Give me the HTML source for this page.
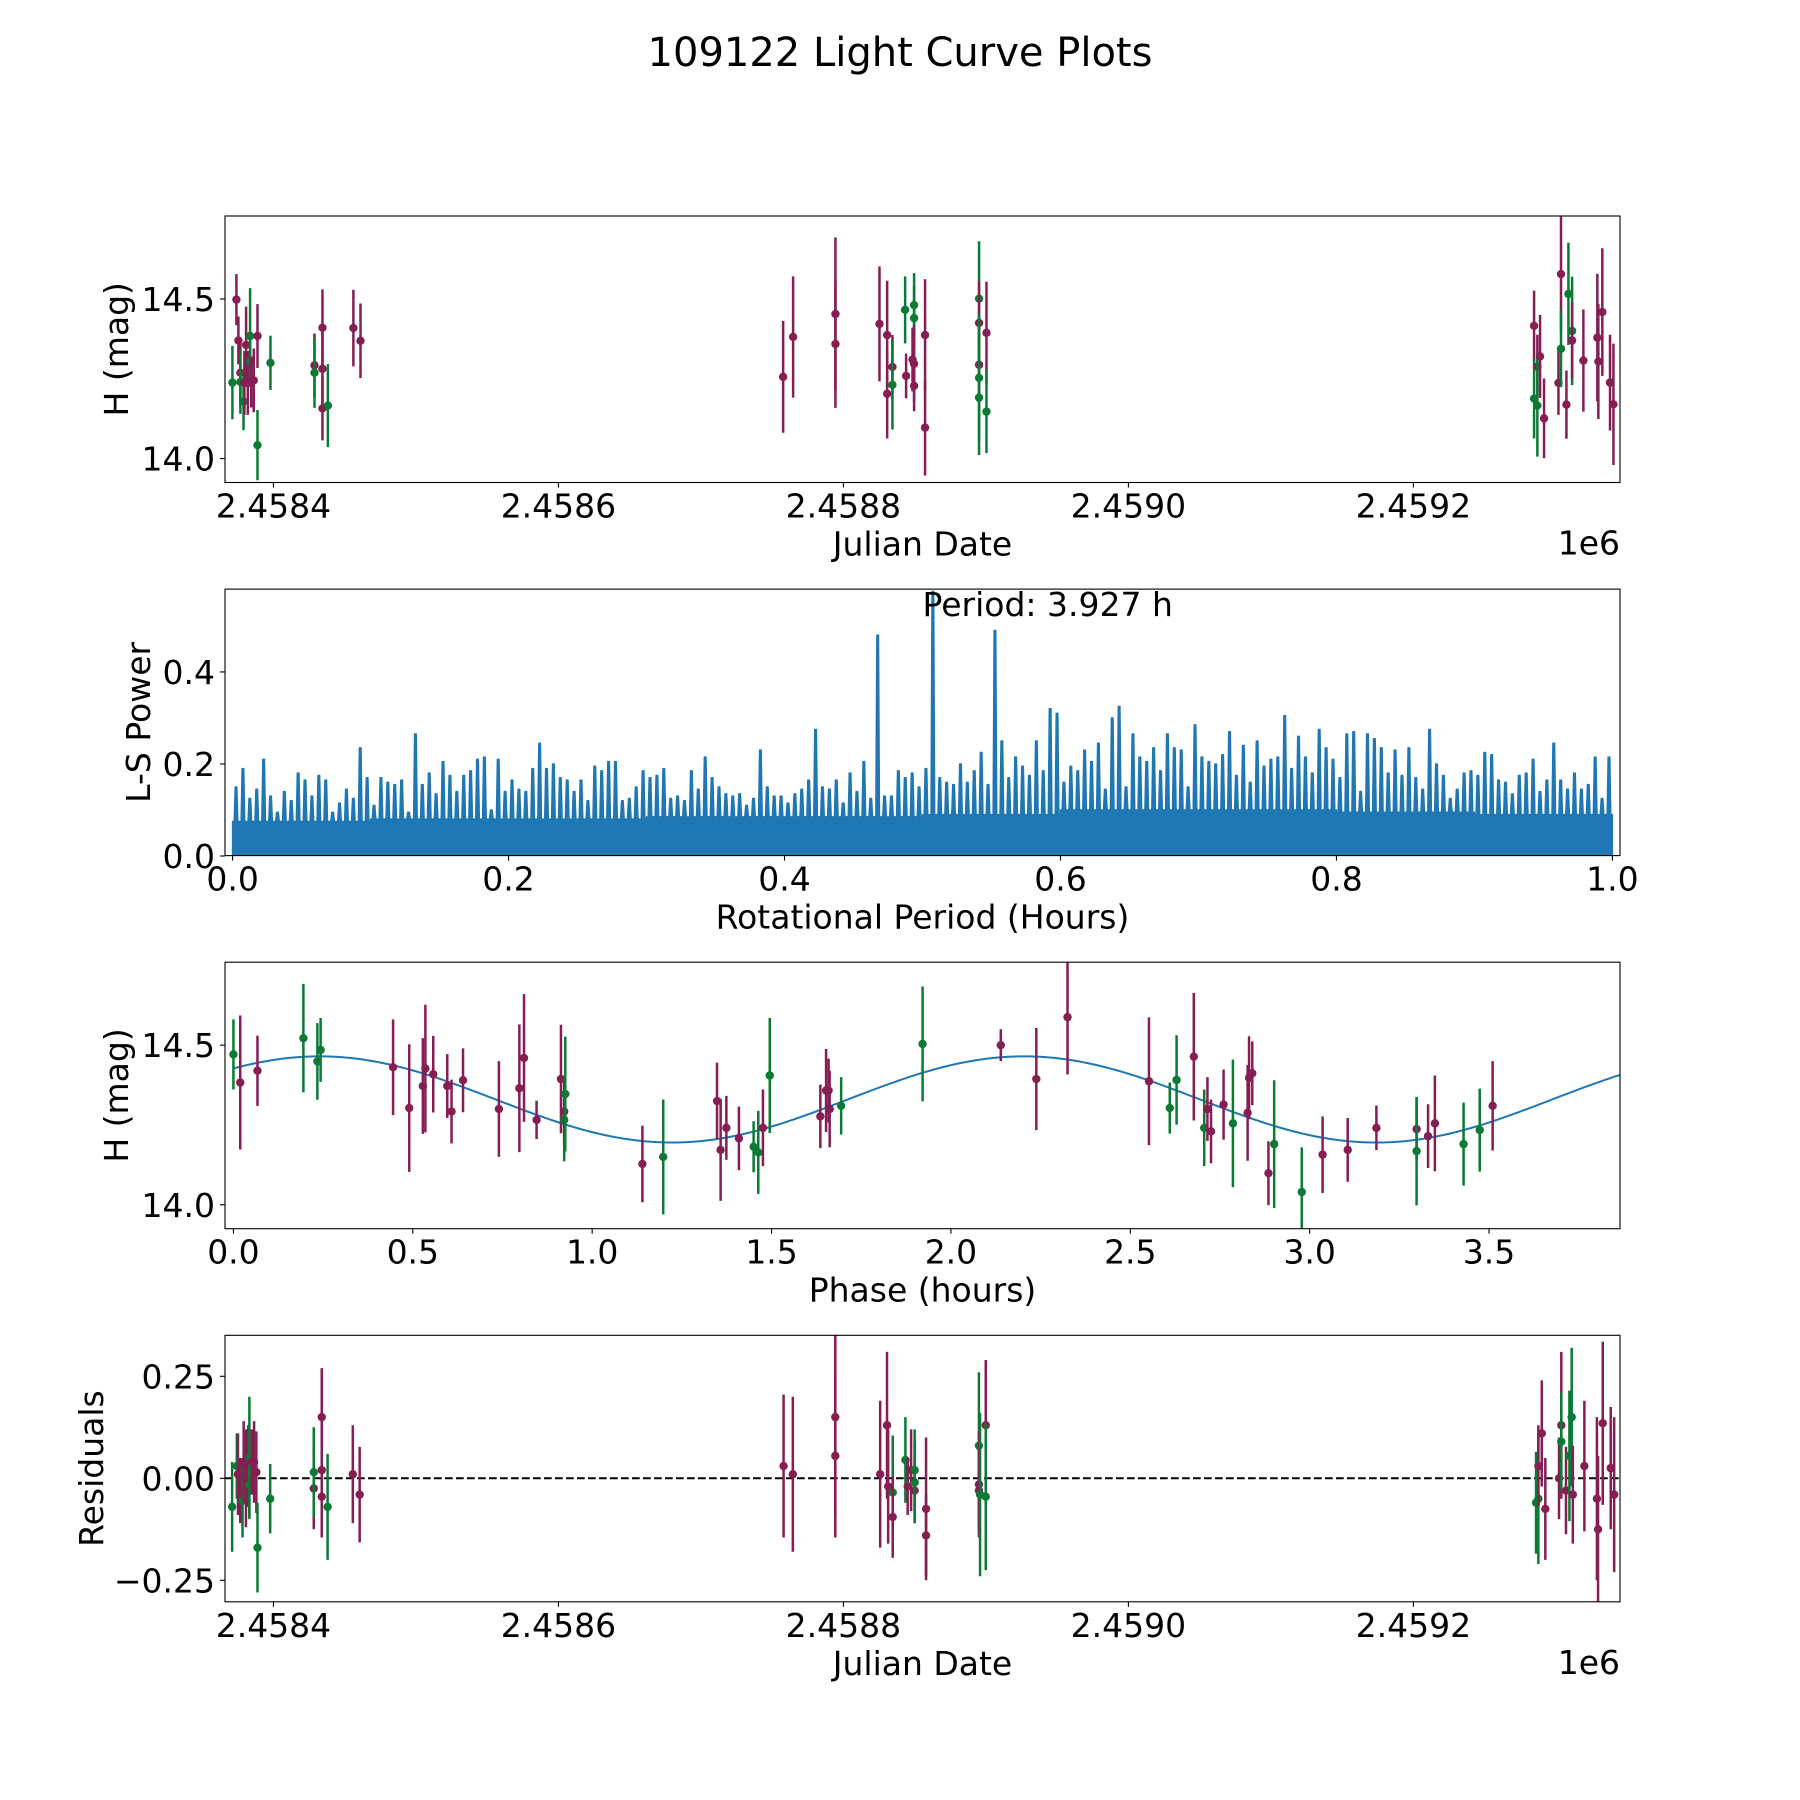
<!DOCTYPE html>
<html><head><meta charset="utf-8"><title>109122 Light Curve Plots</title>
<style>
html,body{margin:0;padding:0;background:#fff;}
svg{display:block;font-family:"DejaVu Sans","Liberation Sans",sans-serif;}
</style></head>
<body>
<svg id="fig" width="1800" height="1800" viewBox="0 0 1800 1800" xmlns="http://www.w3.org/2000/svg">
<rect width="1800" height="1800" fill="#fff"/>
<text x="900" y="66" font-size="40" text-anchor="middle">109122 Light Curve Plots</text>
</svg>
<script>
// ---------- Light curve data (JD offset from 2458400) ----------
const lcJd = [-28.8,-26,-24.6,-23.2,-23.2,-21,-20.4,-19.2,-18,-16.4,-16.4,-15.6,-13.8,-11.2,-11.2,-2.1,28.8,28.8,34.4,34.4,34.4,38.2,56.1,61.1,
357.7,364.7,394.4,394.4,425.3,430.7,430.7,434.4,434.4,443.3,444,449.6,449.6,449.6,448.5,449.6,457.3,457.3,495.2,495.2,495.2,495.2,495.2,500.4,500.4,
884.7,884.7,887,887,888.9,891.7,901.8,903.6,903.6,907.4,908.8,911.4,911.4,919.3,929.1,929.8,932.6,938,940.4];
const lcMag = [14.238,14.498,14.37,14.269,14.24,14.179,14.237,14.356,14.237,14.384,14.305,14.24,14.245,14.384,14.042,14.3,14.292,14.269,14.41,14.281,14.157,14.166,14.409,14.369,
14.256,14.381,14.453,14.359,14.422,14.387,14.203,14.287,14.231,14.466,14.259,14.481,14.44,14.297,14.31,14.228,14.387,14.097,14.501,14.425,14.294,14.253,14.191,14.394,14.147,
14.416,14.188,14.288,14.166,14.32,14.126,14.237,14.578,14.344,14.169,14.516,14.4,14.37,14.307,14.379,14.304,14.459,14.238,14.17];
const lcErr = [0.115,0.08,0.075,0.1,0.1,0.09,0.1,0.12,0.1,0.15,0.08,0.08,0.1,0.1,0.11,0.085,0.1,0.11,0.12,0.12,0.1,0.13,0.12,0.117,
0.175,0.19,0.24,0.2,0.18,0.17,0.14,0.1,0.14,0.105,0.07,0.1,0.1,0.12,0.1,0.08,0.175,0.15,0.18,0.13,0.1,0.2,0.18,0.16,0.13,
0.11,0.125,0.1,0.16,0.13,0.125,0.1,0.18,0.12,0.107,0.16,0.17,0.12,0.16,0.2,0.18,0.2,0.15,0.19];
const lcBand = ["g","r","r","r","g","g","r","r","r","g","g","r","r","r","g","g","r","g","r","r","r","g","r","r",
"r","r","r","r","r","r","r","r","g","g","r","g","g","r","r","r","r","r","g","r","r","g","g","r","g",
"r","g","r","g","r","r","r","r","g","r","g","g","r","r","r","r","r","r","r"];

// ---------- Periodogram data ----------
const perBinWidth = 0.005;
const perPeaks = [0.15,0.19,0.125,0.145,0.21,0.13,0.095,0.14,0.12,0.18,0.165,0.13,0.175,0.165,0.095,0.115,0.145,0.125,0.235,
0.17,0.11,0.17,0.16,0.155,0.165,0.095,0.265,0.155,0.18,0.135,0.205,0.175,0.14,0.175,0.185,0.21,0.215,0.1,0.21,
0.14,0.165,0.145,0.14,0.19,0.245,0.19,0.2,0.17,0.165,0.14,0.165,0.12,0.195,0.185,0.205,0.205,0.12,0.125,0.15,
0.185,0.17,0.175,0.19,0.125,0.13,0.12,0.185,0.145,0.215,0.17,0.15,0.135,0.13,0.135,0.11,0.125,0.23,0.15,
0.13,0.13,0.115,0.135,0.145,0.165,0.275,0.15,0.145,0.165,0.115,0.18,0.14,0.205,0.125,0.48,0.13,0.13,0.185,0.17,0.18,0.15,
0.19,0.575,0.17,0.16,0.155,0.2,0.16,0.185,0.225,0.155,0.49,0.25,0.17,0.215,0.195,0.175,0.25,0.185,0.32,0.31,
0.16,0.195,0.185,0.23,0.205,0.245,0.145,0.3,0.325,0.15,0.265,0.215,0.205,0.235,0.185,0.265,0.235,0.23,0.15,0.285,
0.215,0.205,0.2,0.22,0.27,0.175,0.24,0.16,0.25,0.195,0.21,0.215,0.305,0.19,0.26,0.215,0.18,0.275,0.235,0.21,
0.17,0.265,0.27,0.14,0.265,0.255,0.235,0.18,0.23,0.175,0.235,0.17,0.145,0.275,0.2,0.175,0.125,0.145,0.18,0.185,
0.175,0.225,0.22,0.165,0.16,0.135,0.175,0.18,0.21,0.14,0.165,0.245,0.165,0.145,0.18,0.145,0.155,0.215,0.125,0.215];
const perFloor = [0.075,0.08,0.08,0.085,0.085,0.09,0.1,0.1,0.095,0.09];
const bestPeriodLabel = "Period: 3.927 h";

// ---------- Phase-folded data ----------
const phX = [0,0.019,0.067,0.195,0.234,0.243,0.445,0.49,0.528,0.535,0.557,0.596,0.608,0.64,0.74,0.797,0.81,0.845,0.913,0.922,0.922,0.925,
1.14,1.198,1.348,1.358,1.374,1.409,1.45,1.463,1.476,1.495,1.636,1.652,1.662,1.659,1.694,1.921,2.139,2.238,2.325,2.552,2.61,2.629,2.677,
2.706,2.715,2.725,2.76,2.786,2.827,2.831,2.84,2.885,2.901,2.978,3.036,3.106,3.186,3.298,3.298,3.33,3.349,3.429,3.474,3.51];
const phMag = [14.471,14.383,14.42,14.522,14.449,14.485,14.431,14.303,14.372,14.427,14.409,14.372,14.292,14.39,14.3,14.365,14.46,14.266,14.394,14.266,14.292,14.347,
14.128,14.15,14.325,14.172,14.241,14.208,14.182,14.164,14.241,14.405,14.277,14.358,14.3,14.358,14.31,14.504,14.5,14.394,14.588,14.387,14.303,14.391,14.464,
14.241,14.3,14.23,14.314,14.255,14.288,14.398,14.412,14.099,14.19,14.04,14.157,14.172,14.241,14.237,14.168,14.215,14.255,14.19,14.234,14.31];
const phErr = [0.11,0.21,0.11,0.17,0.12,0.1,0.15,0.2,0.15,0.2,0.12,0.1,0.1,0.1,0.15,0.2,0.2,0.06,0.17,0.13,0.1,0.18,
0.12,0.18,0.12,0.16,0.1,0.1,0.08,0.13,0.12,0.18,0.1,0.13,0.12,0.1,0.09,0.18,0.05,0.16,0.18,0.2,0.08,0.14,0.2,
0.12,0.1,0.1,0.11,0.2,0.15,0.13,0.1,0.1,0.2,0.14,0.12,0.1,0.07,0.1,0.17,0.1,0.15,0.13,0.13,0.14];
const phBand = ["g","r","r","g","g","g","r","r","r","r","r","r","r","r","r","r","r","r","r","g","r","g",
"r","g","r","r","r","r","g","g","r","g","r","r","r","r","g","g","r","r","r","r","g","g","r",
"g","r","r","r","g","r","r","r","r","g","g","r","r","r","r","g","r","r","g","g","r"];
const fitMean = 14.33, fitAmp = 0.135, fitHalfPeriod = 1.9635, fitPeak = 0.24, fitEnd = 3.927;

// ---------- Residuals ----------
const resJd = [-29,-25.7,-24.9,-23.3,-21.7,-20.9,-19.3,-17.7,-16.9,-16.9,-15.2,-13.6,-12,-11.2,-2.3,28.3,28.3,33.9,33.9,33.9,38,55.7,60.5,
358,364.5,394.3,394.3,425.8,430.6,431.4,434.6,434.6,443.5,445.1,447.5,450,450,450,458,458,495.1,495.1,495.1,495.9,499.9,499.9,
886.1,887.7,887.7,890.1,892.6,902.2,903.8,903.8,907.1,909.5,911.1,911.9,920,928.8,929.6,932.9,938.5,940.9];
const resVal = [-0.07,0.03,0.01,-0.03,-0.055,0.04,0,0.03,-0.015,0.05,0.04,0.04,0.015,-0.17,-0.05,-0.025,0.015,0.15,0.02,-0.045,-0.07,0.01,-0.04,
0.03,0.01,0.15,0.055,0.01,0.13,-0.02,-0.035,-0.095,0.045,-0.02,0.02,0.02,-0.03,-0.01,-0.075,-0.14,0.08,-0.015,-0.03,-0.04,0.13,-0.045,
-0.06,-0.05,0.03,0.11,-0.075,0,0.13,0.09,-0.03,0.055,0.15,-0.04,0.03,-0.05,-0.125,0.135,0.025,-0.04];
const resErr = [0.11,0.08,0.1,0.08,0.09,0.1,0.12,0.1,0.08,0.15,0.08,0.1,0.1,0.11,0.085,0.1,0.11,0.12,0.12,0.1,0.13,0.12,0.117,
0.175,0.19,0.24,0.2,0.18,0.18,0.14,0.14,0.1,0.105,0.07,0.1,0.1,0.08,0.1,0.175,0.1,0.18,0.13,0.1,0.2,0.16,0.18,
0.125,0.16,0.1,0.13,0.125,0.1,0.18,0.12,0.107,0.16,0.17,0.12,0.16,0.2,0.18,0.2,0.15,0.19];
const resBand = ["g","g","r","r","g","r","r","r","g","g","r","r","r","g","g","r","g","r","r","r","g","r","r",
"r","r","r","r","r","r","r","g","r","g","r","r","g","r","g","r","r","g","r","r","g","r","g",
"g","g","r","r","r","r","r","g","r","g","g","r","r","r","r","r","r","r"];

const jdTicks = [0,200,400,600,800];
const jdTickLabels = ["2.4584","2.4586","2.4588","2.4590","2.4592"];
const magTicks = [14.0,14.5];
const magTickLabels = ["14.0","14.5"];
const perXTicks = [0,0.2,0.4,0.6,0.8,1.0];
const perXTickLabels = ["0.0","0.2","0.4","0.6","0.8","1.0"];
const perYTicks = [0,0.2,0.4];
const perYTickLabels = ["0.0","0.2","0.4"];
const phTicks = [0,0.5,1,1.5,2,2.5,3,3.5];
const phTickLabels = ["0.0","0.5","1.0","1.5","2.0","2.5","3.0","3.5"];
const resTicks = [-0.25,0,0.25];
const resTickLabels = ["\u22120.25","0.00","0.25"];

// ---------- layout ----------
const NS = "http://www.w3.org/2000/svg";
const svg = document.getElementById("fig");
const L = 225, R = 1620;
const COL = {r:"#861e54", g:"#0b7a34"};
function mk(tag, attrs, parent){
  const e = document.createElementNS(NS, tag);
  for (const k in attrs) e.setAttribute(k, attrs[k]);
  (parent||svg).appendChild(e);
  return e;
}
function lin(d0,d1,p0,p1){ return v => p0 + (v-d0)*(p1-p0)/(d1-d0); }

const ax = [
  {top:216, bot:482.5},
  {top:589.1, bot:855.6},
  {top:962.2, bot:1228.7},
  {top:1335.3, bot:1601.8}
];
const xJd = lin(-34, 945, L, R);
const yMag1 = lin(13.925, 14.760, ax[0].bot, ax[0].top);
const xPer = lin(-0.0055, 1.0055, L, R);
const yPer = lin(0, 0.58, 856, ax[1].top);
const xPh = lin(-0.0235, 3.865, L, R);
const yMag3 = lin(13.925, 14.760, ax[2].bot, ax[2].top);
const yRes = lin(0, 0.25, 1478.3, 1376.3);

function frame(i, name){
  const g = mk("g", {});
  
  
  return g;
}
function spine(g, a, name){
  const r = mk("rect", {x:L, y:a.top, width:R-L, height:a.bot-a.top, fill:"none", stroke:"#000", "stroke-width":1.1}, g);
  
  
}
function xTicks(g, a, vals, labels, sx, name){
  vals.forEach((v,i)=>{
    const x = sx(v);
    const t = mk("line", {x1:x, x2:x, y1:a.bot, y2:a.bot+5, stroke:"#000", "stroke-width":1.1}, g);
    
    
    const tx = mk("text", {x:x, y:a.bot+35, "font-size":33, "text-anchor":"middle"}, g);
    tx.textContent = labels[i];
    
    
  });
}
function yTicks(g, vals, labels, sy, name){
  vals.forEach((v,i)=>{
    const y = sy(v);
    const t = mk("line", {x1:L-5, x2:L, y1:y, y2:y, stroke:"#000", "stroke-width":1.1}, g);
    
    
    const tx = mk("text", {x:L-10, y:y+12, "font-size":33, "text-anchor":"end"}, g);
    tx.textContent = labels[i];
    
    
  });
}
function label(g, txt, x, y, rot, name, anchor){
  const t = mk("text", {x:x, y:y, "font-size":33, "text-anchor":anchor||"middle"}, g);
  if (rot) t.setAttribute("transform", `rotate(-90 ${x} ${y})`);
  t.textContent = txt;
  
  
}
function clip(id, a){
  const d = mk("clipPath", {id:id});
  mk("rect", {x:L, y:a.top, width:R-L, height:a.bot-a.top}, d);
}
function errPoints(g, xs, ys, es, bands, sx, sy, name){
  xs.forEach((xv,i)=>{
    const x = sx(xv), c = COL[bands[i]];
    const ln = mk("line", {x1:x, x2:x, y1:sy(ys[i]-es[i]), y2:sy(ys[i]+es[i]), stroke:c, "stroke-width":2.5}, g);
    
    
    const p = mk("circle", {cx:x, cy:sy(ys[i]), r:4.2, fill:c}, g);
    
    
  });
}

clip("c1", ax[0]); clip("c2", ax[1]); clip("c3", ax[2]); clip("c4", ax[3]);

// ---- Panel 1: light curve ----
const g1 = frame(0, "light-curve-panel");
const d1 = mk("g", {"clip-path":"url(#c1)"}, g1);


errPoints(d1, lcJd, lcMag, lcErr, lcBand, xJd, yMag1, "light-curve");
spine(g1, ax[0], "light-curve-axes");
xTicks(g1, ax[0], jdTicks, jdTickLabels, xJd, "light-curve-x");
yTicks(g1, magTicks, magTickLabels, yMag1, "light-curve-y");
label(g1, "Julian Date", 922.5, ax[0].bot+73, false, "light-curve-x-axis-title");
label(g1, "1e6", R, ax[0].bot+72, false, "light-curve-x-offset", "end");
label(g1, "H (mag)", 128, (ax[0].top+ax[0].bot)/2, true, "light-curve-y-axis-title");

// ---- Panel 2: periodogram ----
const g2 = frame(1, "periodogram-panel");
const d2 = mk("g", {"clip-path":"url(#c2)"}, g2);
let path = `M${xPer(0)},${yPer(0)}`;
perPeaks.forEach((pk,i)=>{
  const x0 = xPer(i*perBinWidth), x1 = xPer((i+1)*perBinWidth);
  const fl = perFloor[Math.min(perFloor.length-1, Math.floor(i*perBinWidth*10))];
  const xc = (x0+x1)/2;
  path += ` L${x0},${yPer(fl)} L${xc-1.8},${yPer(fl)} L${xc-0.8},${yPer(pk)} L${xc+0.8},${yPer(pk)} L${xc+1.8},${yPer(fl)} L${x1},${yPer(fl)}`;
});
path += ` L${xPer(1)},${yPer(0)} Z`;
const pg = mk("path", {d:path, fill:"#1f77b4", stroke:"#1f77b4", "stroke-width":1.5, "stroke-linejoin":"round"}, d2);


spine(g2, ax[1], "periodogram-axes");
xTicks(g2, ax[1], perXTicks, perXTickLabels, xPer, "periodogram-x");
yTicks(g2, perYTicks, perYTickLabels, yPer, "periodogram-y");
label(g2, "Rotational Period (Hours)", 922.5, ax[1].bot+73, false, "periodogram-x-axis-title");
label(g2, "L-S Power", 150, (ax[1].top+ax[1].bot)/2, true, "periodogram-y-axis-title");
label(g2, bestPeriodLabel, xPer(0.5), 616, false, "period-annotation", "start");

// ---- Panel 3: phase folded ----
const g3 = frame(2, "phase-panel");
const d3 = mk("g", {"clip-path":"url(#c3)"}, g3);
let fp = "";
for (let k=0;k<=400;k++){
  const ph = fitEnd*k/400;
  const m = fitMean + fitAmp*Math.cos(2*Math.PI*(ph-fitPeak)/fitHalfPeriod);
  fp += (k?" L":"M") + xPh(ph).toFixed(2) + "," + yMag3(m).toFixed(2);
}
const fitLine = mk("path", {d:fp, fill:"none", stroke:"#1f77b4", "stroke-width":2}, d3);


errPoints(d3, phX, phMag, phErr, phBand, xPh, yMag3, "phase");
spine(g3, ax[2], "phase-axes");
xTicks(g3, ax[2], phTicks, phTickLabels, xPh, "phase-x");
yTicks(g3, magTicks, magTickLabels, yMag3, "phase-y");
label(g3, "Phase (hours)", 922.5, ax[2].bot+73, false, "phase-x-axis-title");
label(g3, "H (mag)", 128, (ax[2].top+ax[2].bot)/2, true, "phase-y-axis-title");

// ---- Panel 4: residuals ----
const g4 = frame(3, "residuals-panel");
const d4 = mk("g", {"clip-path":"url(#c4)"}, g4);
const zl = mk("line", {x1:L, x2:R, y1:yRes(0), y2:yRes(0), stroke:"#000", "stroke-width":2, "stroke-dasharray":"7.7,3.3"}, d4);


errPoints(d4, resJd, resVal, resErr, resBand, xJd, yRes, "residual");
spine(g4, ax[3], "residuals-axes");
xTicks(g4, ax[3], jdTicks, jdTickLabels, xJd, "residuals-x");
yTicks(g4, resTicks, resTickLabels, yRes, "residuals-y");
label(g4, "Julian Date", 922.5, ax[3].bot+73, false, "residuals-x-axis-title");
label(g4, "1e6", R, ax[3].bot+72, false, "residuals-x-offset", "end");
label(g4, "Residuals", 103, (ax[3].top+ax[3].bot)/2, true, "residuals-y-axis-title");
</script>
</body></html>
